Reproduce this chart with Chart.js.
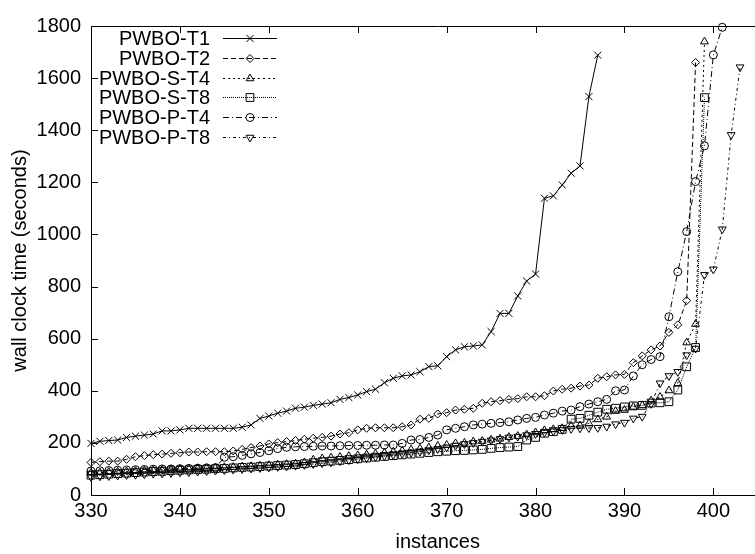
<!DOCTYPE html>
<html>
<head>
<meta charset="utf-8">
<script src="https://cdn.jsdelivr.net/npm/chart.js@4.4.0/dist/chart.umd.min.js"></script>
<style>
  html, body { margin: 0; padding: 0; background: #fff; overflow: hidden; }
  #wrap { width: 755px; height: 554px; overflow: hidden; }
</style>
</head>
<body>
<div id="wrap"><canvas id="cactus" width="791" height="554"></canvas></div>
<script>
// first instance shown on the x axis, each series goes up by one instance per value
var firstInstance = 330;

var seriesNames = ['PWBO-T1', 'PWBO-T2', 'PWBO-S-T4', 'PWBO-S-T8', 'PWBO-P-T4', 'PWBO-P-T8'];

var t1 = [198,206,209,211,221,226,230,234,246,246,250,256,256,256,256,256,256,260,269,294,
  303,314,322,333,337,344,349,354,367,374,384,397,406,431,448,457,461,473,493,496,
  531,557,569,572,576,627,697,697,764,821,848,1139,1148,1190,1235,1263,1529,1688];

var t2 = [125,128,130,130,137,147,151,155,157,160,162,165,165,166,166,166,169,175,182,188,
  196,201,205,209,214,218,221,226,234,239,250,256,258,258,258,262,269,291,294,311,
  316,326,329,333,352,358,362,367,370,377,377,381,399,406,410,418,422,448,454,461,
  463,508,534,557,572,624,653,746,1660];

var sT4 = [85,86,88,89,90,92,93,95,96,98,99,100,102,103,104,106,107,109,110,112,
  114,116,118,120,125,135,140,143,146,149,152,155,158,162,166,170,174,178,182,188,
  192,198,200,205,207,212,216,222,226,232,240,248,252,256,265,266,275,290,300,322,
  326,338,344,362,376,401,429,585,656,1740];

var sT8 = [76,78,80,82,84,86,88,90,91,93,95,96,98,99,101,102,104,106,107,109,
  111,113,115,117,120,124,128,130,133,136,139,142,145,148,151,154,157,160,163,166,
  168,170,171,173,175,179,182,184,186,211,221,237,243,252,291,294,306,318,329,333,
  338,342,344,353,354,358,403,492,566,1525];

var pT4 = [92,93,94,95,96,97,98,99,100,100,101,102,103,104,105,145,147,152,158,163,
  170,178,183,185,186,187,188,188,189,190,190,191,191,192,192,198,211,213,221,230,
  250,256,262,269,272,275,278,281,288,294,298,307,314,322,326,339,349,358,367,400,
  403,457,500,520,531,684,857,1011,1203,1340,1689,1795];

var pT8 = [70,72,73,75,77,78,80,82,83,85,87,88,90,92,94,96,98,100,102,104,
  106,108,110,113,116,119,122,126,130,134,138,142,146,150,154,158,162,167,172,177,
  183,190,196,200,205,210,215,221,224,230,235,240,245,250,254,256,257,258,263,272,
  278,294,301,350,429,457,473,537,562,845,866,1020,1382,1642];

var xTicks = [330, 340, 350, 360, 370, 380, 390, 400];
var yTicks = [0, 200, 400, 600, 800, 1000, 1200, 1400, 1600, 1800];

var FONT = "'Liberation Sans', Arial, Helvetica, sans-serif";
var FONT_SIZE = 20;

var toPoints = function(values){
  return values.map(function(v, i){ return {x: firstInstance + i, y: v}; });
};

var styles = [
  {dash: [], shape: 'crossRot', radius: 5, rot: 0},
  {dash: [5, 3], shape: 'rectRot', radius: 4, rot: 0},
  {dash: [2, 3], shape: 'triangle', radius: 4.5, rot: 0},
  {dash: [1, 1], shape: 'rect', radius: 5.5, rot: 0},
  {dash: [6, 3, 1, 3], shape: 'circle', radius: 4, rot: 0},
  {dash: [3, 3, 1, 3], shape: 'triangle', radius: 4.5, rot: 180}
];

var allValues = [t1, t2, sT4, sT8, pT4, pT8];

var datasets = allValues.map(function(vals, k){
  var s = styles[k];
  return {
    label: seriesNames[k],
    data: toPoints(vals),
    borderColor: '#000',
    borderWidth: 1,
    borderDash: s.dash,
    pointStyle: s.shape,
    pointRadius: s.radius,
    pointRotation: s.rot,
    pointBorderColor: '#000',
    pointBorderWidth: 1,
    pointBackgroundColor: 'rgba(0,0,0,0)',
    tension: 0,
    clip: 6
  };
});

// gnuplot style frame with inward ticks, plus the key in the top left corner
var framePlugin = {
  id: 'frame',
  afterDatasetsDraw: function(chart){
    var ctx = chart.ctx;
    var a = chart.chartArea;
    var xs = chart.scales.x, ys = chart.scales.y;
    ctx.save();
    ctx.strokeStyle = '#000';
    ctx.lineWidth = 1;
    ctx.setLineDash([]);
    ctx.beginPath();
    ctx.rect(Math.round(a.left) + 0.5, Math.round(a.top) + 0.5,
      Math.round(a.right - a.left), Math.round(a.bottom - a.top));
    ctx.stroke();
    ctx.beginPath();
    xTicks.forEach(function(v){
      var px = Math.round(xs.getPixelForValue(v)) + 0.5;
      ctx.moveTo(px, a.bottom); ctx.lineTo(px, a.bottom - 7);
      ctx.moveTo(px, a.top); ctx.lineTo(px, a.top + 7);
    });
    yTicks.forEach(function(v){
      var py = Math.round(ys.getPixelForValue(v)) + 0.5;
      ctx.moveTo(a.left, py); ctx.lineTo(a.left + 7, py);
      ctx.moveTo(a.right, py); ctx.lineTo(a.right - 7, py);
    });
    ctx.stroke();

    // key
    ctx.font = FONT_SIZE + 'px ' + FONT;
    ctx.textAlign = 'right';
    ctx.textBaseline = 'middle';
    for (var i = 0; i < seriesNames.length; i++){
      var y = Math.round(38 + i * 19.8) + 0.5;
      var s = styles[i];
      ctx.fillStyle = '#000';
      ctx.fillText(seriesNames[i], 210, y + 1);
      ctx.beginPath();
      ctx.setLineDash(s.dash);
      ctx.moveTo(223, y);
      ctx.lineTo(277, y);
      ctx.stroke();
      ctx.setLineDash([]);
      ctx.fillStyle = 'rgba(0,0,0,0)';
      Chart.helpers.drawPoint(ctx, {pointStyle: s.shape, radius: s.radius, rotation: s.rot, borderWidth: 1}, 250, y);
    }
    ctx.restore();
  }
};

new Chart(document.getElementById('cactus'), {
  type: 'line',
  data: {datasets: datasets},
  options: {
    responsive: false,
    animation: false,
    layout: {padding: {top: 26, right: 1, left: 0, bottom: 0}},
    plugins: {legend: {display: false}, tooltip: {enabled: false}},
    scales: {
      x: {
        type: 'linear',
        min: 330,
        max: 408,
        afterFit: function(scale){ scale.height = 59; },
        afterBuildTicks: function(scale){ scale.ticks = xTicks.map(function(v){ return {value: v}; }); },
        grid: {display: false, drawTicks: false},
        border: {display: false},
        ticks: {color: '#000', font: {family: FONT, size: FONT_SIZE}, padding: 4, maxRotation: 0,
          callback: function(v){ return String(v); }},
        title: {display: true, text: 'instances', color: '#000', font: {family: FONT, size: FONT_SIZE}, padding: {top: 0, bottom: 0}}
      },
      y: {
        min: 0,
        max: 1800,
        afterFit: function(scale){ scale.width = 91; },
        afterBuildTicks: function(scale){ scale.ticks = yTicks.map(function(v){ return {value: v}; }); },
        grid: {display: false, drawTicks: false},
        border: {display: false},
        ticks: {color: '#000', font: {family: FONT, size: FONT_SIZE}, padding: 10,
          callback: function(v){ return String(v); }},
        title: {display: true, text: 'wall clock time (seconds)', color: '#000', font: {family: FONT, size: FONT_SIZE}, padding: {top: 8, bottom: 0}}
      }
    }
  },
  plugins: [framePlugin]
});
</script>
</body>
</html>
